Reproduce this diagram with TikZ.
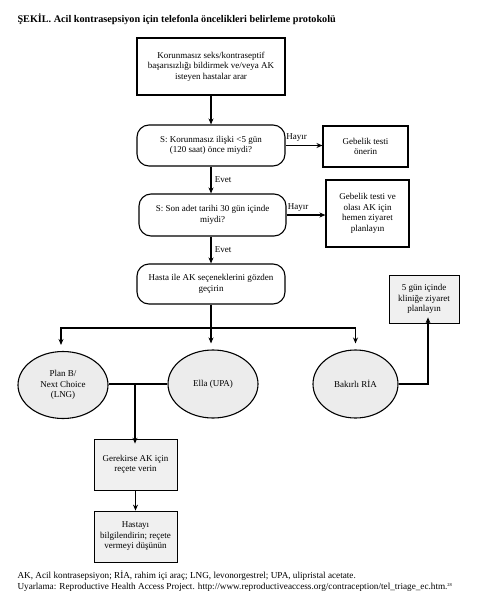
\documentclass[tikz,border=0pt]{standalone}
\usepackage{fontspec}
\setmainfont{Liberation Serif}
\usetikzlibrary{positioning,shapes.geometric,arrows.meta}

\begin{document}
\begin{tikzpicture}
                [x=1pt,y=-1pt,
                font=\fontsize{9}{10.5}\selectfont,
                box/.style={rectangle,draw,line width=1.1pt,align=center,inner sep=1pt},
                qbox/.style={box,rounded corners=12pt},
                gbox/.style={box,line width=.8pt,fill=gray!12},
                opt/.style={ellipse,draw,line width=1.1pt,fill=gray!15,align=center,inner sep=0pt},
                arr/.style={line width=1.2pt,-{Stealth[length=6pt,width=5pt]}},
                ln/.style={line width=1.2pt}]
                \useasboundingbox (0,0) rectangle (482,597);
                \node[anchor=west,font=\fontsize{10.2}{12}\selectfont\bfseries] (title) at (14,19)
                    {ŞEKİL. Acil kontrasepsiyon için telefonla öncelikleri belirleme protokolü};
                \node[box,minimum width=148pt,minimum height=57pt] (start) at (211,66.5)
                    {Korunmasız seks/kontraseptif\\başarısızlığı bildirmek ve/veya AK\\isteyen hastalar arar};
                \node[qbox,minimum width=148pt,minimum height=41pt] (q1) at (211,145.5)
                    {S: Korunmasız ilişki <5 gün\\(120 saat) önce miydi?};
                \node[box,minimum width=85pt,minimum height=41pt] (no1) at (365.5,146.5)
                    {Gebelik testi\\önerin};
                \node[qbox,minimum width=147pt,minimum height=42pt] (q2) at (212.5,215)
                    {S: Son adet tarihi 30 gün içinde\\miydi?};
                \node[box,minimum width=83pt,minimum height=67pt] (no2) at (367.5,213.5)
                    {Gebelik testi ve\\olası AK için\\hemen ziyaret\\planlayın};
                \node[qbox,minimum width=148pt,minimum height=40pt] (review) at (211,284)
                    {Hasta ile AK seçeneklerini gözden\\geçirin};
                \node[opt,minimum width=90pt,minimum height=67pt] (pb) at (63,385)
                    {Plan B/\\Next Choice\\(LNG)};
                \node[opt,minimum width=90pt,minimum height=68pt] (ella) at (213,384) {Ella (UPA)};
                \node[opt,minimum width=85pt,minimum height=68pt] (cu) at (355.5,384) {Bakırlı RİA};
                \node[gbox,minimum width=70pt,minimum height=48pt] (visit) at (424,299)
                    {5 gün içinde\\kliniğe ziyaret\\planlayın};
                \node[gbox,minimum width=83pt,minimum height=51pt] (rx) at (135.5,464.5)
                    {Gerekirse AK için\\reçete verin};
                \node[gbox,minimum width=83pt,minimum height=51pt] (info) at (135.5,536.5)
                    {Hastayı\\bilgilendirin; reçete\\vermeyi düşünün};
                % branch points
                \coordinate (split) at (211,328);
                \coordinate (join) at (135,384);
                \draw[arr] (start) -- (q1);
                \draw[arr] (q1.east) -- node[above,pos=.3] {Hayır} (no1.west |- q1.east);
                \draw[arr] (q1) -- node[right] {Evet} (q2.north -| q1.south);
                \draw[arr] (q2.east) -- node[above,pos=.3] {Hayır} (no2.west |- q2.east);
                \draw[arr] (q2.south -| review.north) -- node[right] {Evet} (review);
                \draw[ln] (review) -- (split);
                \draw[arr] (split) -| ([yshift=6pt]pb.north -| 61,0);
                \draw[arr] (split) -- ([yshift=6pt]ella.north -| split);
                \draw[arr] (split) -| ([yshift=6pt]cu.north);
                \draw[ln] (pb.east |- join) -- (ella.west |- join);
                \draw[arr] (join) -- ([yshift=-5pt]rx.north -| join);
                \draw[arr] (cu.east) -| ([xshift=4pt,yshift=6pt]visit.south);
                \draw[arr] (rx) -- (info);
                \node[anchor=west,font=\fontsize{9.2}{11}\selectfont] (note) at (14,576)
                    {AK, Acil kontrasepsiyon; RİA, rahim içi araç; LNG, levonorgestrel; UPA, ulipristal acetate.};
                \node[anchor=west,font=\fontsize{9.2}{11}\selectfont] (src) at (14,587)
                    {Uyarlama: Reproductive Health Access Project. http://www.reproductiveaccess.org/contraception/tel\_triage\_ec.htm.\raisebox{3pt}{\fontsize{4.5}{5}\selectfont 28}};
\end{tikzpicture}
\end{document}
